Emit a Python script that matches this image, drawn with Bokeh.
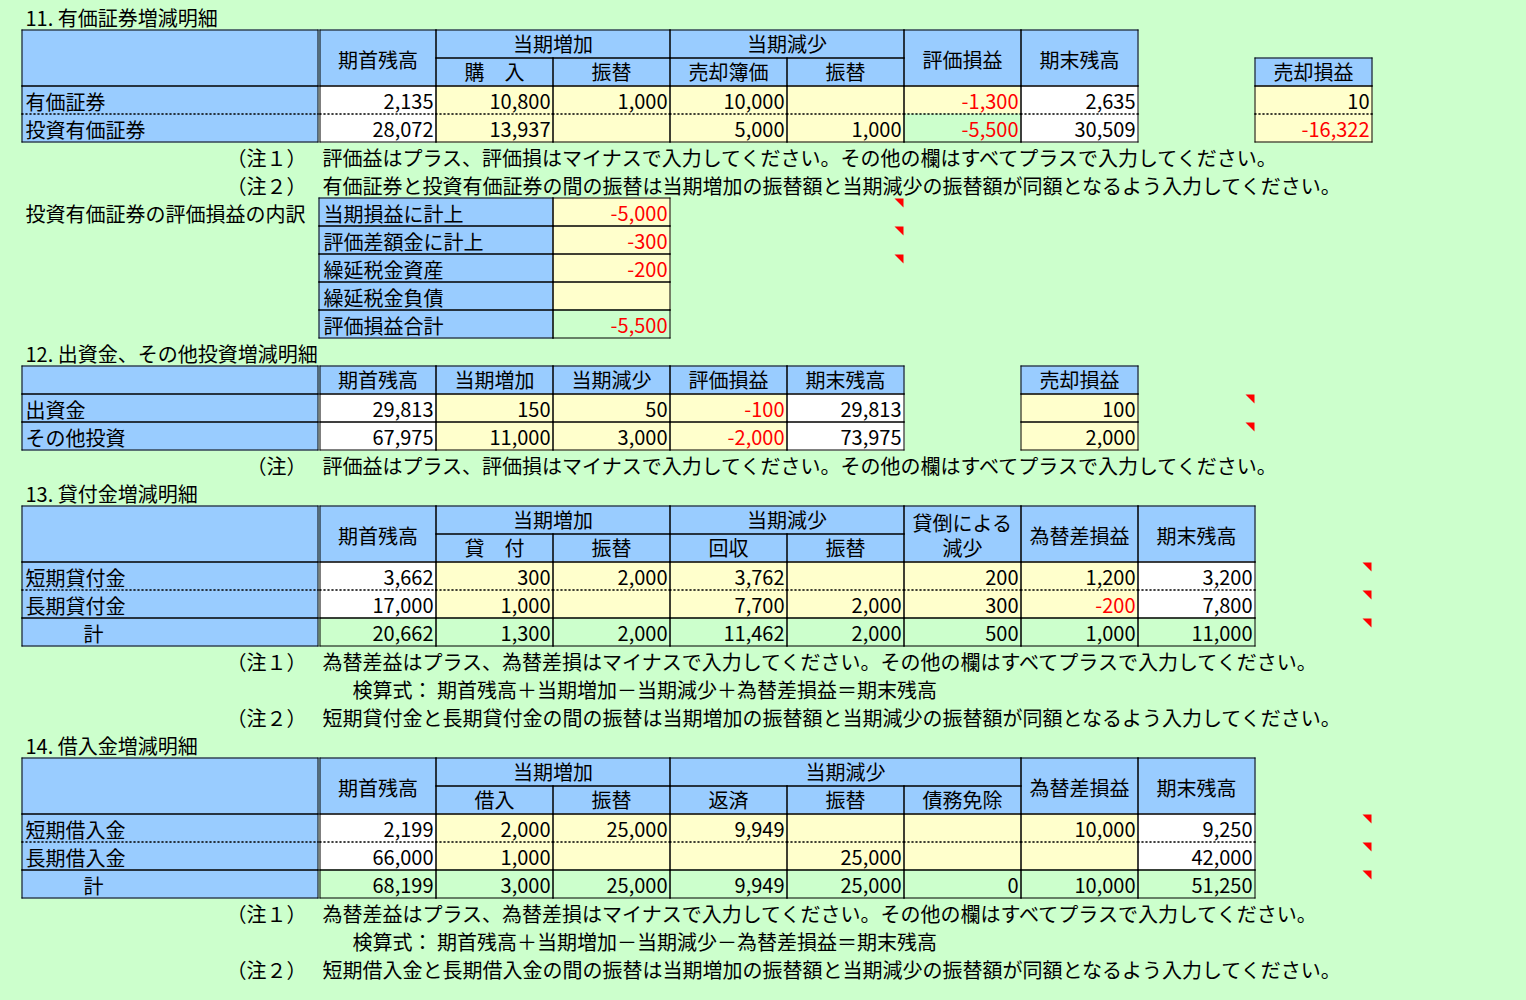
from bokeh.plotting import figure
from bokeh.models import Range1d, ColumnDataSource
from bokeh.core.properties import value
from bokeh.embed import file_html
from bokeh.resources import INLINE

# ---------------- data ----------------
s11_title = "11. 有価証券増減明細"
s11_head_top = ["期首残高", "当期増加", "当期減少", "評価損益", "期末残高"]
s11_head_sub = ["購　入", "振替", "売却簿価", "振替"]
s11_gain_head = "売却損益"
s11_items = ["有価証券", "投資有価証券"]
s11_opening = [2135, 28072]
s11_purchase = [10800, 13937]
s11_transfer_in = [1000, None]
s11_sale_book = [10000, 5000]
s11_transfer_out = [None, 1000]
s11_valuation = [-1300, -5500]
s11_closing = [2635, 30509]
s11_sale_gain = [10, -16322]
s11_note_marks = ["（注１）", "（注２）"]
s11_note_texts = [
    "評価益はプラス、評価損はマイナスで入力してください。その他の欄はすべてプラスで入力してください。",
    "有価証券と投資有価証券の間の振替は当期増加の振替額と当期減少の振替額が同額となるよう入力してください。",
]
s11b_label = "投資有価証券の評価損益の内訳"
s11b_items = ["当期損益に計上", "評価差額金に計上", "繰延税金資産", "繰延税金負債", "評価損益合計"]
s11b_values = [-5000, -300, -200, None, -5500]

s12_title = "12. 出資金、その他投資増減明細"
s12_head = ["期首残高", "当期増加", "当期減少", "評価損益", "期末残高"]
s12_gain_head = "売却損益"
s12_items = ["出資金", "その他投資"]
s12_opening = [29813, 67975]
s12_increase = [150, 11000]
s12_decrease = [50, 3000]
s12_valuation = [-100, -2000]
s12_closing = [29813, 73975]
s12_sale_gain = [100, 2000]
s12_note_mark = "（注）"
s12_note_text = "評価益はプラス、評価損はマイナスで入力してください。その他の欄はすべてプラスで入力してください。"

s13_title = "13. 貸付金増減明細"
s13_head_top = ["期首残高", "当期増加", "当期減少", "貸倒による", "減少", "為替差損益", "期末残高"]
s13_head_sub = ["貸　付", "振替", "回収", "振替"]
s13_items = ["短期貸付金", "長期貸付金", "計"]
s13_opening = [3662, 17000, 20662]
s13_loan = [300, 1000, 1300]
s13_transfer_in = [2000, None, 2000]
s13_collection = [3762, 7700, 11462]
s13_transfer_out = [None, 2000, 2000]
s13_bad_debt = [200, 300, 500]
s13_fx = [1200, -200, 1000]
s13_closing = [3200, 7800, 11000]
s13_note_marks = ["（注１）", "", "（注２）"]
s13_note_texts = [
    "為替差益はプラス、為替差損はマイナスで入力してください。その他の欄はすべてプラスで入力してください。",
    "検算式： 期首残高＋当期増加－当期減少＋為替差損益＝期末残高",
    "短期貸付金と長期貸付金の間の振替は当期増加の振替額と当期減少の振替額が同額となるよう入力してください。",
]

s14_title = "14. 借入金増減明細"
s14_head_top = ["期首残高", "当期増加", "当期減少", "為替差損益", "期末残高"]
s14_head_sub = ["借入", "振替", "返済", "振替", "債務免除"]
s14_items = ["短期借入金", "長期借入金", "計"]
s14_opening = [2199, 66000, 68199]
s14_borrow = [2000, 1000, 3000]
s14_transfer_in = [25000, None, 25000]
s14_repay = [9949, None, 9949]
s14_transfer_out = [None, 25000, 25000]
s14_forgiven = [None, None, 0]
s14_fx = [10000, None, 10000]
s14_closing = [9250, 42000, 51250]
s14_note_marks = ["（注１）", "", "（注２）"]
s14_note_texts = [
    "為替差益はプラス、為替差損はマイナスで入力してください。その他の欄はすべてプラスで入力してください。",
    "検算式： 期首残高＋当期増加－当期減少－為替差損益＝期末残高",
    "短期借入金と長期借入金の間の振替は当期増加の振替額と当期減少の振替額が同額となるよう入力してください。",
]

# ---------------- layout / style ----------------
BG = "#CCFFCC"
BLUE = "#99CCFF"
YEL = "#FFFFCC"
GRN = "#CCFFCC"
WHT = "#FFFFFF"
RED = "#FF0000"
FONT = "Noto Sans CJK JP"
FSIZE = "20px"

COL = [21, 319, 435, 552, 669, 786, 903, 1020, 1137, 1254, 1371]
DBL = 317
ROW_H = 28
TXT_DY = 16


def ry(r):
    return 1 + ROW_H * r


R = dict(left=[], right=[], top=[], bottom=[], color=[])
SOL = dict(x0=[], y0=[], x1=[], y1=[])
DOT = dict(x0=[], y0=[], x1=[], y1=[])
TL = dict(x=[], y=[], text=[], color=[])
TR = dict(x=[], y=[], text=[], color=[])
TC = dict(x=[], y=[], text=[], color=[])
TRI = dict(xs=[], ys=[])


def rect(x0, x1, y0, y1, c):
    R["left"].append(x0)
    R["right"].append(x1)
    R["top"].append(y0)
    R["bottom"].append(y1)
    R["color"].append(c)


def seg(kind, x0, y0, x1, y1):
    d = SOL if kind == "s" else DOT
    d["x0"].append(x0)
    d["y0"].append(y0)
    d["x1"].append(x1)
    d["y1"].append(y1)


def box(x0, x1, y0, y1, fill, top="s", bottom="s", left="s", right="s"):
    rect(x0, x1 + 1, y0, y1 + 1, fill)
    if top:
        seg(top, x0, y0 + 0.5, x1 + 1, y0 + 0.5)
    if bottom:
        seg(bottom, x0, y1 + 0.5, x1 + 1, y1 + 0.5)
    if left:
        seg(left, x0 + 0.5, y0, x0 + 0.5, y1 + 1)
    if right:
        seg(right, x1 + 0.5, y0, x1 + 0.5, y1 + 1)


def txt(x, y, s, align="left", color="black"):
    d = {"left": TL, "right": TR, "center": TC}[align]
    d["x"].append(x)
    d["y"].append(y)
    d["text"].append(s)
    d["color"].append(color)


def hcell(x0, x1, y0, y1, s):
    box(x0, x1, y0, y1, BLUE)
    dy = 1.0 if (y1 - y0) > ROW_H else -1.0
    txt((x0 + x1 + 1) / 2, (y0 + y1 + 1) / 2 + dy, s, "center")


def num(xr, y0, v):
    if v is None:
        return
    txt(xr - 2, y0 + TXT_DY, f"{v:,}", "right", RED if v < 0 else "black")


def tri(xr, y0):
    TRI["xs"].append([xr - 9, xr, xr])
    TRI["ys"].append([y0 + 1, y0 + 1, y0 + 10])


def label_head(y0, y1):
    box(COL[0], DBL, y0, y1, BLUE)
    rect(DBL + 1, DBL + 2, y0, y1 + 1, BLUE)


def body(r0, items, cols, fills, seps, label_x=None):
    n = len(items)
    for i in range(n):
        y0, y1 = ry(r0 + i), ry(r0 + i + 1)
        ts = "s" if i == 0 else seps[i - 1]
        bs = "s" if i == n - 1 else seps[i]
        box(COL[0], DBL, y0, y1, BLUE, ts, bs)
        lx = label_x[i] if label_x else COL[0] + 4
        txt(lx, y0 + TXT_DY, items[i])
        rect(DBL + 1, DBL + 2, y0, y1 + 1, fills[i][0])
        for k, col in enumerate(cols):
            box(COL[k + 1], COL[k + 2], y0, y1, fills[i][k], ts, bs)
            num(COL[k + 2], y0, col[i])


def notes(r0, marks, texts, text_x):
    for i, (m, t) in enumerate(zip(marks, texts)):
        y = ry(r0 + i) + TXT_DY
        if m:
            txt(306, y, m, "right")
        txt(text_x[i], y, t)


# ---------------- section 11 ----------------
txt(25, ry(0) + TXT_DY, s11_title)
h0, h1, h2 = ry(1), ry(2), ry(3)
label_head(h0, h2)
hcell(COL[1], COL[2], h0, h2, s11_head_top[0])
hcell(COL[2], COL[4], h0, h1, s11_head_top[1])
hcell(COL[4], COL[6], h0, h1, s11_head_top[2])
hcell(COL[6], COL[7], h0, h2, s11_head_top[3])
hcell(COL[7], COL[8], h0, h2, s11_head_top[4])
for k, s in enumerate(s11_head_sub):
    hcell(COL[2 + k], COL[3 + k], h1, h2, s)
hcell(COL[9], COL[10], h1, h2, s11_gain_head)
body(3, s11_items,
     [s11_opening, s11_purchase, s11_transfer_in, s11_sale_book, s11_transfer_out, s11_valuation, s11_closing],
     [[WHT, YEL, YEL, YEL, YEL, YEL, WHT], [WHT, YEL, YEL, YEL, YEL, GRN, WHT]], ["d"])
for i, v in enumerate(s11_sale_gain):
    y0, y1 = ry(3 + i), ry(4 + i)
    box(COL[9], COL[10], y0, y1, YEL, "s" if i == 0 else "d", "d" if i == 0 else "s")
    num(COL[10], y0, v)
notes(5, s11_note_marks, s11_note_texts, [322, 322])

txt(25, ry(7) + TXT_DY, s11b_label)
for i, (lab, v) in enumerate(zip(s11b_items, s11b_values)):
    y0, y1 = ry(7 + i), ry(8 + i)
    box(318, COL[3], y0, y1, BLUE)
    txt(323, y0 + TXT_DY, lab)
    box(COL[3], COL[4], y0, y1, GRN if i == len(s11b_items) - 1 else YEL)
    num(COL[4], y0, v)
for i in range(3):
    tri(COL[6], ry(7 + i))

# ---------------- section 12 ----------------
txt(25, ry(12) + TXT_DY, s12_title)
h0, h1 = ry(13), ry(14)
label_head(h0, h1)
for k, s in enumerate(s12_head):
    hcell(COL[1 + k], COL[2 + k], h0, h1, s)
hcell(COL[7], COL[8], h0, h1, s12_gain_head)
body(14, s12_items, [s12_opening, s12_increase, s12_decrease, s12_valuation, s12_closing],
     [[WHT, YEL, YEL, YEL, WHT], [WHT, YEL, YEL, YEL, WHT]], ["s"])
for i, v in enumerate(s12_sale_gain):
    y0, y1 = ry(14 + i), ry(15 + i)
    box(COL[7], COL[8], y0, y1, YEL)
    num(COL[8], y0, v)
    tri(COL[9], y0)
notes(16, [s12_note_mark], [s12_note_text], [322])

# ---------------- section 13 ----------------
txt(25, ry(17) + TXT_DY, s13_title)
h0, h1, h2 = ry(18), ry(19), ry(20)
label_head(h0, h2)
hcell(COL[1], COL[2], h0, h2, s13_head_top[0])
hcell(COL[2], COL[4], h0, h1, s13_head_top[1])
hcell(COL[4], COL[6], h0, h1, s13_head_top[2])
box(COL[6], COL[7], h0, h2, BLUE)
txt((COL[6] + COL[7] + 1) / 2, h0 + 17, s13_head_top[3], "center")
txt((COL[6] + COL[7] + 1) / 2, h0 + 42, s13_head_top[4], "center")
hcell(COL[7], COL[8], h0, h2, s13_head_top[5])
hcell(COL[8], COL[9], h0, h2, s13_head_top[6])
for k, s in enumerate(s13_head_sub):
    hcell(COL[2 + k], COL[3 + k], h1, h2, s)
row_in = [WHT, YEL, YEL, YEL, YEL, YEL, YEL, WHT]
body(20, s13_items,
     [s13_opening, s13_loan, s13_transfer_in, s13_collection, s13_transfer_out, s13_bad_debt, s13_fx, s13_closing],
     [row_in, row_in, [GRN] * 8], ["d", "s"], label_x=[25, 25, 83])
for i in range(3):
    tri(COL[10], ry(20 + i))
notes(23, s13_note_marks, s13_note_texts, [322, 352, 322])

# ---------------- section 14 ----------------
txt(25, ry(26) + TXT_DY, s14_title)
h0, h1, h2 = ry(27), ry(28), ry(29)
label_head(h0, h2)
hcell(COL[1], COL[2], h0, h2, s14_head_top[0])
hcell(COL[2], COL[4], h0, h1, s14_head_top[1])
hcell(COL[4], COL[7], h0, h1, s14_head_top[2])
hcell(COL[7], COL[8], h0, h2, s14_head_top[3])
hcell(COL[8], COL[9], h0, h2, s14_head_top[4])
for k, s in enumerate(s14_head_sub):
    hcell(COL[2 + k], COL[3 + k], h1, h2, s)
body(29, s14_items,
     [s14_opening, s14_borrow, s14_transfer_in, s14_repay, s14_transfer_out, s14_forgiven, s14_fx, s14_closing],
     [row_in, row_in, [GRN] * 8], ["d", "s"], label_x=[25, 25, 83])
for i in range(3):
    tri(COL[10], ry(29 + i))
notes(32, s14_note_marks, s14_note_texts, [322, 352, 322])

# ---------------- figure ----------------
W, H = 1520, 994
p = figure(width=W, height=H, x_range=Range1d(0, W), y_range=Range1d(H, 0),
           output_backend="svg", toolbar_location=None, min_border=0,
           background_fill_color=BG, border_fill_color=BG, outline_line_color=None)
p.xaxis.visible = False
p.yaxis.visible = False
p.xgrid.visible = False
p.ygrid.visible = False

p.quad(left="left", right="right", top="top", bottom="bottom", fill_color="color",
       line_color=None, source=ColumnDataSource(R))
p.segment(x0="x0", y0="y0", x1="x1", y1="y1", line_color="black", line_width=1,
          line_dash="2 2", source=ColumnDataSource(DOT))
p.segment(x0="x0", y0="y0", x1="x1", y1="y1", line_color="black", line_width=1,
          source=ColumnDataSource(SOL))
p.patches(xs="xs", ys="ys", fill_color=RED, line_color=None, source=ColumnDataSource(TRI))
for d, al in ((TL, "left"), (TR, "right"), (TC, "center")):
    p.text(x="x", y="y", text="text", text_color="color", text_align=al, text_baseline="middle",
           text_font=value(FONT), text_font_size=FSIZE, source=ColumnDataSource(d))

html = file_html(p, INLINE, title="増減明細")
html = html.replace("<head>", "<head><style>body{background:#CCFFCC;}</style>", 1)
open("out.html", "w").write(html)
